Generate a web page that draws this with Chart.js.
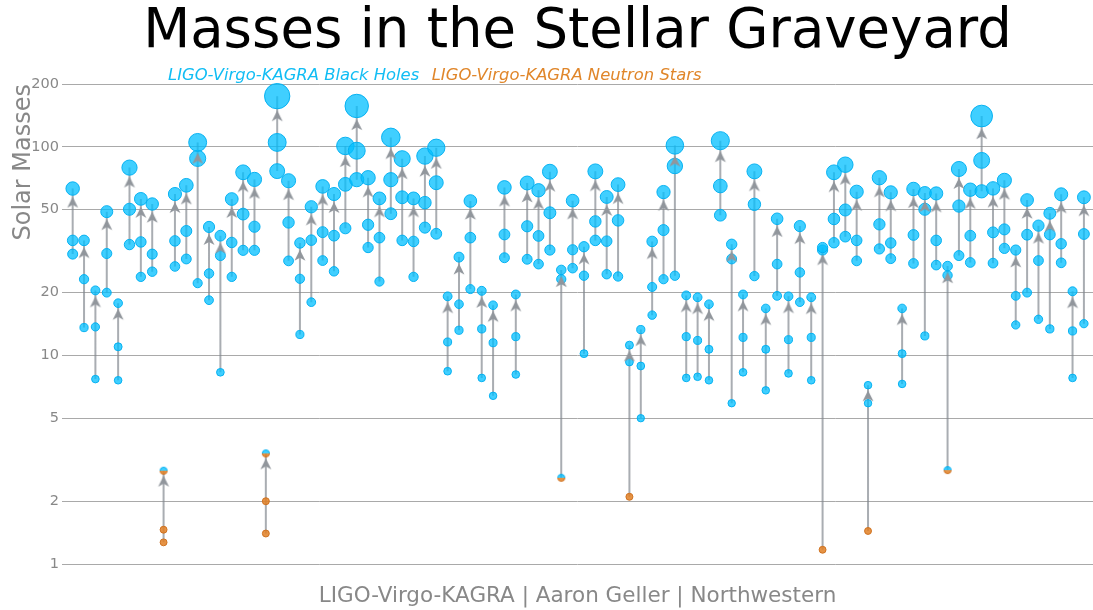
<!DOCTYPE html>
<html><head><meta charset="utf-8">
<script src="https://cdn.jsdelivr.net/npm/chart.js@4.4.1/dist/chart.umd.min.js"></script>
<style>html,body{margin:0;padding:0;background:#fff;overflow:hidden;}#wrap{width:1093px;height:610px;position:relative;}canvas{display:block;}</style>
</head><body><div id="wrap"><canvas id="c"></canvas></div>
<script>
// ---- data (solar masses), one entry per merger event, in catalogue order ----
const PRIMARY = [35.6,23.2,13.7,30.8,11.0,50.2,35.0,30.6,1.46,35.4,39.5,88.0,24.7,30.1,34.8,47.6,41.4,2.0,105,43.4,
  23.3,35.7,39.0,37.5,66.1,95.8,42.3,36.7,69.6,57.3,35.2,54.0,67.3,11.6,17.6,36.7,13.4,11.5,38.0,12.3,
  41.6,37.4,48.3,23.2,32.1,24.1,43.9,35.3,44.4,9.3,8.9,21.3,39.9,80.9,12.3,11.8,10.7,64.9,29.0,12.2,
  53.0,10.7,27.4,11.9,25.0,12.2,32.0,45.1,49.8,35.6,5.9,42.5,34.6,10.2,37.8,50.2,35.6,24.2,52.0,37.5,
  86.1,38.9,40.2,19.3,37.9,28.5,38.0,34.3,13.1,38.2];
const SECONDARY = [30.6,13.6,7.7,20.0,7.6,34.0,23.8,25.2,1.27,26.7,29.0,22.2,18.4,8.3,23.8,31.9,31.9,1.4,76.5,28.4,
  12.6,18.0,28.5,25.3,40.7,69.6,32.9,22.6,47.8,35.6,23.8,41.0,38.3,8.4,13.2,20.8,7.8,6.4,29.4,8.1,
  28.9,27.4,32.0,2.59,26.2,10.2,35.6,24.5,23.9,2.1,5.0,15.6,23.2,24.1,7.8,7.9,7.6,47.0,5.9,8.3,
  24.0,6.8,19.3,8.2,18.0,7.6,1.17,34.7,37.1,28.4,1.44,32.4,29.1,7.3,27.6,12.4,27.1,2.82,30.1,27.9,
  61.2,27.7,32.6,14.0,20.0,14.9,13.4,27.8,7.8,14.2];
const FINAL = [63.1,35.6,20.5,48.9,17.8,79.5,56.3,53.2,2.8,59.4,65.4,105,41.3,37.5,56.2,75.5,69.8,3.39,175,68.8,
  34.6,51.6,64.6,59.4,101,157,71.1,56.6,111,87.7,56.6,90.3,99,19.2,29.6,55.0,20.4,17.4,63.9,19.6,
  67.1,61.9,76.0,25.7,55.2,33.2,76.3,57.5,65.9,11.2,13.3,35.2,60.7,101.6,19.4,19.0,17.6,107,34.1,19.6,
  76.3,16.8,45.2,19.2,41.7,19.0,32.9,75.5,82.1,60.9,7.2,71.1,60.5,16.8,62.8,60.0,59.8,26.8,78.3,62.3,
  140.5,63.2,69.1,32.0,55.6,41.9,48.0,59.2,20.3,57.3];
// event indices whose object is a neutron star (orange) or lies in the mass gap (half/half)
const NS_PRIMARY = [8, 17];
const NS_SECONDARY = [8, 17, 49, 66, 70];
const GAP_SECONDARY = [43, 77];
const GAP_FINAL = [8, 17];
const Y_TICKS = [1, 2, 5, 10, 20, 50, 100, 200];
const TITLE = 'Masses in the Stellar Graveyard';
const SERIES_NAMES = ['LIGO-Virgo-KAGRA Black Holes', 'LIGO-Virgo-KAGRA Neutron Stars'];
const Y_TITLE = 'Solar Masses';
const CREDIT = 'LIGO-Virgo-KAGRA | Aaron Geller | Northwestern';

// ---- styles ----
const FONT = '"DejaVu Sans", sans-serif';
const BH_FILL = 'rgba(0,191,255,0.75)', BH_EDGE = 'rgba(0,175,240,0.95)', BH_TEXT = '#10bdf4';
const NS_FILL = 'rgba(226,128,36,0.85)', NS_EDGE = 'rgba(205,112,30,0.95)', NS_TEXT = '#e0862a';
const SHAFT = 'rgba(128,134,141,0.68)', HEAD = 'rgba(145,150,156,1)';
const radius = m => 3.4 + 0.053 * m;

const headCache = {};
function headCanvas(r) {
  const key = r.toFixed(2);
  if (headCache[key]) return headCache[key];
  const gap = 1.5, len = 11, w = 11;
  const h = 2 * Math.ceil(r + gap + len + 1);
  const c = document.createElement('canvas');
  c.width = 14; c.height = h;
  const g = c.getContext('2d');
  const cx = 7, tip = h / 2 + r + gap;
  g.fillStyle = HEAD;
  g.beginPath();
  g.moveTo(cx, tip); g.lineTo(cx + w / 2, tip + len); g.lineTo(cx, tip + len * 0.72); g.lineTo(cx - w / 2, tip + len);
  g.closePath(); g.fill();
  headCache[key] = c;
  return c;
}
const gapCache = {};
function gapCanvas(r) {
  const key = r.toFixed(2);
  if (gapCache[key]) return gapCache[key];
  const s = 2 * Math.ceil(r + 1);
  const c = document.createElement('canvas');
  c.width = s; c.height = s;
  const g = c.getContext('2d');
  const cx = s / 2;
  g.save(); g.beginPath(); g.rect(0, cx, s, s); g.clip();
  g.beginPath(); g.arc(cx, cx, r, 0, Math.PI * 2); g.fillStyle = NS_FILL; g.fill(); g.strokeStyle = NS_EDGE; g.stroke();
  g.restore();
  g.save(); g.beginPath(); g.rect(0, 0, s, cx); g.clip();
  g.beginPath(); g.arc(cx, cx, r, 0, Math.PI * 2); g.fillStyle = BH_FILL; g.fill(); g.strokeStyle = BH_EDGE; g.stroke();
  g.restore();
  gapCache[key] = c;
  return c;
}

const bhPts = [], nsPts = [], gapPts = [], headPts = [], shaftPts = [];
FINAL.forEach((mf, i) => {
  const m1 = PRIMARY[i], m2 = SECONDARY[i];
  shaftPts.push({x: i, y: m2}, {x: i, y: mf}, {x: i, y: null}, {x: i, y: m1}, {x: i, y: mf}, {x: i, y: null});
  headPts.push({x: i, y: mf});
  (NS_PRIMARY.includes(i) ? nsPts : bhPts).push({x: i, y: m1});
  (NS_SECONDARY.includes(i) ? nsPts : GAP_SECONDARY.includes(i) ? gapPts : bhPts).push({x: i, y: m2});
  (GAP_FINAL.includes(i) ? gapPts : bhPts).push({x: i, y: mf});
});

const legendText = {
  id: 'legendText',
  afterDraw(chart) {
    const ctx = chart.ctx;
    ctx.save();
    ctx.font = 'italic 16.4px ' + FONT;
    ctx.textBaseline = 'alphabetic';
    ctx.textAlign = 'left';
    let x = 168; const y = 80;
    ctx.fillStyle = BH_TEXT; ctx.fillText(SERIES_NAMES[0], x, y);
    x += ctx.measureText(SERIES_NAMES[0]).width + 12.5;
    ctx.fillStyle = NS_TEXT; ctx.fillText(SERIES_NAMES[1], x, y);
    ctx.restore();
  }
};

new Chart(document.getElementById('c'), {
  type: 'scatter',
  data: {
    datasets: [
      {label: 'arrows', data: shaftPts, showLine: true, spanGaps: false, borderColor: SHAFT, borderWidth: 2,
       pointRadius: 0, order: 6, clip: false},
      {label: SERIES_NAMES[0], data: bhPts, backgroundColor: BH_FILL, borderColor: BH_EDGE, borderWidth: 1,
       pointRadius: c => radius(c.raw.y), order: 3, clip: false},
      {label: SERIES_NAMES[1], data: nsPts, backgroundColor: NS_FILL, borderColor: NS_EDGE, borderWidth: 1,
       pointRadius: c => radius(c.raw.y), order: 2, clip: false},
      {label: 'mass gap', data: gapPts, pointStyle: c => gapCanvas(radius(c.raw.y)), pointRadius: 5, order: 1, clip: false},
      {label: 'heads', data: headPts, pointStyle: c => headCanvas(radius(c.raw.y)), pointRadius: 5, order: 0, clip: false}
    ]
  },
  options: {
    responsive: true, maintainAspectRatio: false, animation: false, devicePixelRatio: 1,
    events: [],
    layout: {padding: 0, autoPadding: false},
    plugins: {
      legend: {display: false},
      tooltip: {enabled: false},
      title: {display: true, text: TITLE, color: '#000', fullSize: false,
              font: {family: FONT, size: 54.5, weight: 'normal', lineHeight: 1.1},
              padding: {top: 3, bottom: 21.1}}
    },
    scales: {
      x: {type: 'linear', min: -0.94, max: 89.8,
          grid: {display: false, drawTicks: false}, border: {display: false},
          ticks: {display: false},
          title: {display: true, text: CREDIT, color: '#888', font: {family: FONT, size: 21.5, lineHeight: 1.0},
                  padding: {top: 0, bottom: 2.75}},
          afterFit: s => { s.height = 46; }},
      y: {type: 'logarithmic', min: 1, max: 200,
          afterBuildTicks: s => { s.ticks = Y_TICKS.map(v => ({value: v})); },
          grid: {color: '#a9a9a9', lineWidth: 1, drawTicks: false},
          border: {display: false},
          ticks: {color: '#888', padding: 3, font: {family: FONT, size: 14.5}, callback: v => String(v)},
          title: {display: true, text: Y_TITLE, align: 'end', color: '#888',
                  font: {family: FONT, size: 24, lineHeight: 1.2}, padding: {top: 9.8, bottom: 0}},
          afterFit: s => { s.width = 62; }}
    }
  },
  plugins: [legendText]
});
</script>
</body></html>
